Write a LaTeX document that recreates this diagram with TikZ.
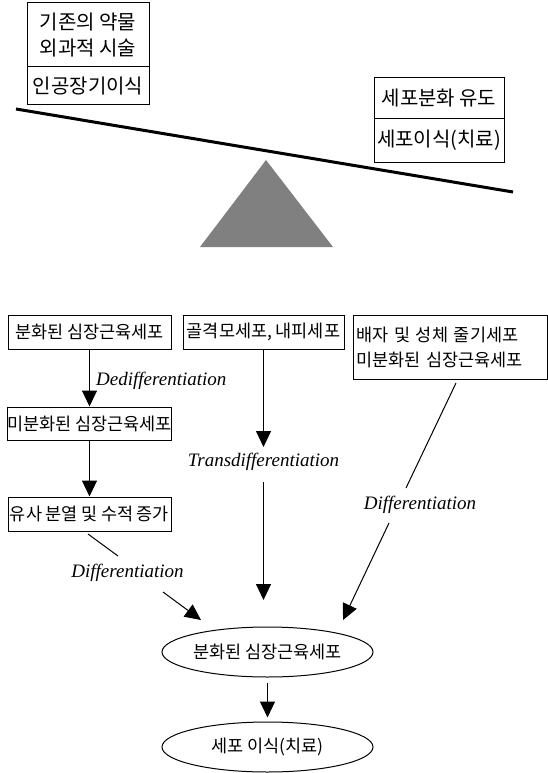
\documentclass[tikz,border=0pt]{standalone}
\usepackage{fontspec}
\setmainfont{Liberation Serif}
\newfontfamily\kr[WordSpace=0.9]{Noto Sans CJK KR}
\usetikzlibrary{arrows.meta,shapes.geometric}
\begin{document}
\begin{tikzpicture}[x=1pt,y=-1pt,
  box/.style={draw,line width=1pt,inner sep=0pt,font=\kr\fontsize{17.5}{25}\selectfont},
  topbox/.style={draw,line width=1pt,inner sep=0pt,font=\kr\fontsize{20}{26}\selectfont},
  oval/.style={ellipse,draw,line width=1pt,inner sep=0pt,minimum width=211pt,minimum height=50pt,font=\kr\fontsize{17.5}{20}\selectfont},
  lab/.style={font=\itshape\fontsize{19}{22}\selectfont,inner sep=0pt},
  arr/.style={line width=1pt,-{Triangle[length=16pt,width=15pt]}},
  ln/.style={line width=1pt}]
\useasboundingbox (0,0) rectangle (548,773);
% top balance
\node[topbox,minimum width=122pt,minimum height=64pt,align=center] (tl1) at (88,35) {기존의 약물\\외과적 시술};
\node[topbox,minimum width=122pt,minimum height=38pt] (tl2) at (88,86) {인공장기이식};
\node[topbox,minimum width=130pt,minimum height=41pt] (tr1) at (439,98.5) {세포분화 유도};
\node[topbox,minimum width=130pt,minimum height=43pt] (tr2) at (439,140.5) {세포이식(치료)};
\coordinate (bl) at (16,109);
\coordinate (br) at (513,192);
\draw[line width=3pt] (bl) -- (br);
\fill[gray] (266,160) -- (333,247) -- (200,247) -- cycle;
% flow
\node[box,minimum width=163pt,minimum height=34pt] (b1) at (89.5,332) {분화된 심장근육세포};
\node[box,minimum width=163pt,minimum height=33pt] (b2) at (89.5,423.5) {미분화된 심장근육세포};
\node[box,minimum width=163pt,minimum height=34pt] (b3) at (89.5,514) {유사 분열 및 수적 증가};
\node[box,minimum width=161pt,minimum height=34pt] (bm) at (263.5,332) {골격모세포, 내피세포};
\node[box,minimum width=194pt,minimum height=64pt,text width=188pt,align=left] (bq) at (450,347) {배자 및 성체 줄기세포\\미분화된 심장근육세포};
\node[oval] (e1) at (267.5,652) {분화된 심장근육세포};
\node[oval] (e2) at (267.5,747) {세포 이식(치료)};
% connectors
\draw[arr] (b1) -- (b2);
\node[lab,anchor=west] (ld) at (96,381) {Dedifferentiation};
\draw[arr] (b2) -- (b3);
\coordinate (m1) at (263.5,447);
\coordinate (m2) at (263.5,482);
\coordinate (m3) at (263.5,600);
\draw[arr] (bm) -- (m1);
\node[lab] (lt) at (263.5,462) {Transdifferentiation};
\draw[arr] (m2) -- (m3);
\coordinate (r0) at (456,383);
\coordinate (r1) at (406,488);
\coordinate (r2) at (389,523);
\coordinate (r3) at (343,620);
\draw[ln] (r0) -- (r1);
\node[lab] (lr) at (420,505) {Differentiation};
\draw[arr] (r2) -- (r3);
\coordinate (l0) at (88,534);
\coordinate (l1) at (118,556);
\coordinate (l2) at (163,592);
\coordinate (l3) at (201,620);
\draw[ln] (l0) -- (l1);
\node[lab] (ll) at (127.5,573) {Differentiation};
\draw[arr] (l2) -- (l3);
\draw[arr,shorten <=5pt,shorten >=4pt] (e1) -- (e2);
\end{tikzpicture}
\end{document}
